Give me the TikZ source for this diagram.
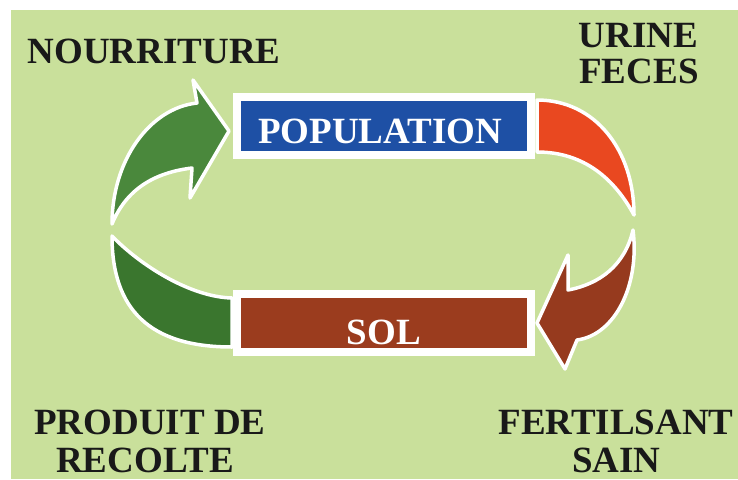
\documentclass[tikz,border=0pt]{standalone}
\usepackage{fontspec}
\setmainfont{Liberation Serif}
\definecolor{bg}{RGB}{201,224,155}
\definecolor{popblue}{RGB}{30,80,165}
\definecolor{solbrown}{RGB}{155,60,30}
\definecolor{arrred}{RGB}{233,72,32}
\definecolor{arrbrown}{RGB}{150,58,30}
\definecolor{grnup}{RGB}{74,136,60}
\definecolor{grnlow}{RGB}{58,118,46}
\begin{document}
\begin{tikzpicture}[x=1pt,y=-1pt,
  lbl/.style={font=\fontsize{37}{37}\selectfont\bfseries, text=black!90, inner sep=0pt, anchor=base},
  boxlbl/.style={lbl, text=white},
  band/.style={draw=white, line width=3.5pt, line join=round},
  frame/.style={draw=white, line width=8pt, minimum width=294pt, minimum height=58pt, inner sep=0pt}]
\useasboundingbox (0,0) rectangle (738,479);
\fill[white] (0,0) rectangle (738,479);
\fill[bg] (11,10) rectangle (738,479);
% upper green arrow
\filldraw[band, fill=grnup] (112,224) .. controls (112,160) and (150,108) .. (197,103)
  -- (193,80) -- (229,131) -- (190,198) -- (192,168)
  .. controls (160,172) and (128,185) .. (112,224) -- cycle;
% lower green band
\filldraw[band, fill=grnlow] (112,236) .. controls (112,310) and (150,347) .. (232,347)
  -- (232,298) .. controls (190,297) and (140,265) .. (112,236) -- cycle;
% red band
\filldraw[band, fill=arrred] (537,100) .. controls (595,100) and (634,150) .. (634,215)
  .. controls (615,180) and (585,152) .. (537,152) -- cycle;
% brown arrow
\filldraw[band, fill=arrbrown] (633,230) .. controls (640,285) and (615,335) .. (577,340)
  -- (565,369) -- (537,323) -- (568,255) -- (568,290)
  .. controls (600,284) and (625,265) .. (633,230) -- cycle;
% boxes
\node[frame, fill=popblue] (pop) at (384,125.5) {};
\node[frame, fill=solbrown, minimum height=57.5pt] (sol) at (384,322.75) {};
\node[boxlbl] (poptext) at (380,143) {POPULATION};
\node[boxlbl] (soltext) at (384,344) {SOL};
% labels
\node[lbl] (nour) at (154,63) {NOURRITURE};
\node[lbl] (urine) at (638.5,47) {URINE};
\node[lbl] (feces) at (639,83) {FECES};
\node[lbl] (produit) at (150,434) {PRODUIT DE};
\node[lbl] (recolte) at (145,472) {RECOLTE};
\node[lbl] (fertil) at (616,434) {FERTILSANT};
\node[lbl] (sain) at (616.5,472) {SAIN};
\end{tikzpicture}
\end{document}
